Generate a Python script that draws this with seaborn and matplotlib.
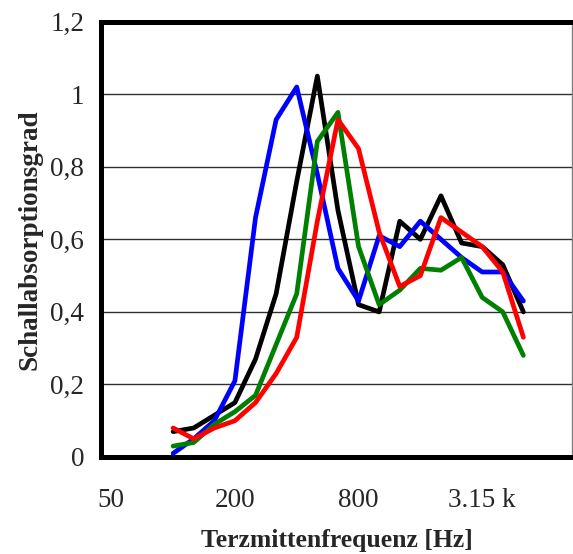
import matplotlib
matplotlib.use("Agg")
import matplotlib.pyplot as plt
import seaborn as sns
import pandas as pd
import numpy as np

# ─── Data ────────────────────────────────────────────────────────────────
FREQS = ["50", "63", "80", "100", "125", "160", "200", "250", "315", "400",
         "500", "630", "800", "1000", "1250", "1600", "2000", "2500", "3150",
         "4000", "5000", "6300", "8000"]
MEASURED = FREQS[3:21]  # 100 Hz .. 5 kHz

black = [0.07, 0.08, 0.115, 0.15, 0.27, 0.45, 0.76, 1.05, 0.68, 0.42,
         0.40, 0.65, 0.60, 0.72, 0.59, 0.58, 0.53, 0.40]
blue = [0.01, 0.05, 0.10, 0.21, 0.66, 0.93, 1.02, 0.78, 0.52, 0.43,
        0.61, 0.58, 0.65, 0.60, 0.55, 0.51, 0.51, 0.43]
green = [0.03, 0.04, 0.09, 0.125, 0.17, 0.31, 0.45, 0.87, 0.95, 0.58,
         0.42, 0.46, 0.52, 0.515, 0.55, 0.44, 0.40, 0.28]
red = [0.08, 0.05, 0.08, 0.10, 0.15, 0.23, 0.33, 0.65, 0.93, 0.85,
       0.62, 0.47, 0.50, 0.66, 0.62, 0.58, 0.51, 0.33]

SERIES = {"black": black, "blue": blue, "green": green, "red": red}
COLORS = {"black": "#000000", "blue": "#0000ff", "green": "#008000", "red": "#ff0000"}

TICK_LABELS = {"50": "50", "200": "200", "800": "800", "3150": "3.15 k"}
Y_TICKS = [0, 0.2, 0.4, 0.6, 0.8, 1.0, 1.2]
Y_LABELS = ["0", "0,2", "0,4", "0,6", "0,8", "1", "1,2"]

# ─── Long-form table ─────────────────────────────────────────────────────
rows = []
for name, vals in SERIES.items():
    for f, v in zip(MEASURED, vals):
        rows.append({"freq": f, "idx": FREQS.index(f), "alpha": v, "series": name})
df = pd.DataFrame(rows)

# ─── Plot ────────────────────────────────────────────────────────────────
sns.set_style("white")
plt.rcParams["font.family"] = ["Liberation Serif", "DejaVu Serif"]

fig = plt.figure(figsize=(5.73, 5.54), dpi=100)
ax = fig.add_axes([101 / 573, 97 / 554, 471 / 573, 435.3 / 554])

sns.lineplot(data=df, x="idx", y="alpha", hue="series", palette=COLORS,
             hue_order=["black", "blue", "green", "red"],
             linewidth=3.4, legend=False, ax=ax, zorder=3)

ax.set_xlim(-0.5, len(FREQS) - 0.64)
ax.set_ylim(0, 1.2)

# grid
ax.set_yticks(Y_TICKS)
ax.set_yticklabels(Y_LABELS, fontsize=19.5)
ax.yaxis.grid(True, color="#303030", linewidth=1.0)
ax.tick_params(axis="y", length=0, pad=12)

# category axis: marks between categories, labels at centres
major = [FREQS.index(f) for f in TICK_LABELS]
ax.set_xticks(major)
ax.set_xticklabels(list(TICK_LABELS.values()), fontsize=19.5)
ax.set_xticks(np.arange(len(FREQS)) - 0.5, minor=True)
ax.tick_params(axis="x", which="major", length=0, pad=22)
ax.tick_params(axis="x", which="minor", length=6, width=1.0, color="#606060",
               direction="out", pad=2)

for side in ["left", "bottom", "top"]:
    ax.spines[side].set_color("black")
    ax.spines[side].set_linewidth(3.6)
ax.spines["right"].set_color("#808080")
ax.spines["right"].set_linewidth(1.0)

ax.set_xlabel("Terzmittenfrequenz [Hz]", fontsize=18.5, fontweight="bold", labelpad=12)
ax.set_ylabel("Schallabsorptionsgrad", fontsize=19.5, fontweight="bold", labelpad=6)

fig.savefig("out.png", dpi=100)
